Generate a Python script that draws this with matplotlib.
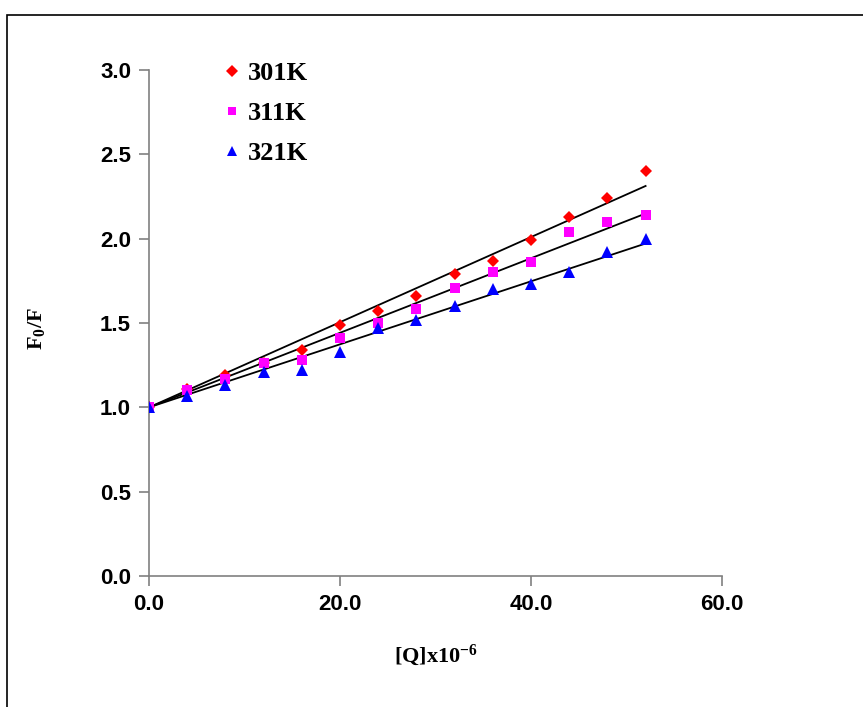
import matplotlib
matplotlib.use("Agg")
import matplotlib.pyplot as plt
import numpy as np
from matplotlib.patches import Rectangle
from matplotlib.lines import Line2D

# ── data ─────────────────────────────────────────────────────────────────────
conc = [0, 4, 8, 12, 16, 20, 24, 28, 32, 36, 40, 44, 48, 52]
f_301 = [1.00, 1.11, 1.19, 1.26, 1.34, 1.49, 1.57, 1.66, 1.79, 1.87, 1.99, 2.13, 2.24, 2.40]
f_311 = [1.00, 1.10, 1.17, 1.26, 1.28, 1.41, 1.50, 1.58, 1.71, 1.80, 1.86, 2.04, 2.10, 2.14]
f_321 = [1.00, 1.07, 1.13, 1.21, 1.22, 1.33, 1.47, 1.52, 1.60, 1.70, 1.73, 1.80, 1.92, 2.00]
labels = ["301K", "311K", "321K"]

x_ticks = [0, 20, 40, 60]
y_ticks = [0.0, 0.5, 1.0, 1.5, 2.0, 2.5, 3.0]

series = [
    (f_301, "#ff0000", "D", 6.5),
    (f_311, "#ff00ff", "s", 6.5),
    (f_321, "#0000ff", "^", 8),
]

plt.rcParams["mathtext.fontset"] = "custom"
plt.rcParams["mathtext.rm"] = "Liberation Serif:bold"
plt.rcParams["mathtext.bf"] = "Liberation Serif:bold"
plt.rcParams["mathtext.it"] = "Liberation Serif:bold"
plt.rcParams["mathtext.default"] = "rm"

fig = plt.figure(figsize=(8.63, 7.07), dpi=100)
ax = fig.add_axes([0.1727, 0.1853, 0.6639, 0.7157])

x = np.array(conc, dtype=float)
handles = []
for (vals, col, mk, ms), lab in zip(series, labels):
    ax.plot(x, vals, linestyle="none", marker=mk, color=col, markersize=ms,
            markeredgewidth=0, zorder=3)
    # Stern-Volmer fit, intercept fixed at F0/F = 1
    y = np.array(vals) - 1.0
    slope = np.sum(x * y) / np.sum(x * x)
    ax.plot([x[0], x[-1]], [1 + slope * x[0], 1 + slope * x[-1]],
            color="black", linewidth=1.3, zorder=2)
    handles.append(Line2D([], [], linestyle="none", marker=mk, color=col,
                          markersize=ms * 0.9, markeredgewidth=0, label=lab))

ax.set_xlim(0, 60)
ax.set_ylim(0, 3.0)
ax.set_xticks(x_ticks)
ax.set_xticklabels([f"{t:.1f}" for t in x_ticks])
ax.set_yticks(y_ticks)
ax.set_yticklabels([f"{t:.1f}" for t in y_ticks])

for side in ("top", "right"):
    ax.spines[side].set_visible(False)
for side in ("left", "bottom"):
    ax.spines[side].set_color("#808080")
    ax.spines[side].set_linewidth(1.2)
ax.tick_params(direction="out", length=7, width=1.2, color="#808080",
               labelsize=16, pad=6)
for t in ax.get_xticklabels() + ax.get_yticklabels():
    t.set_fontfamily("Liberation Sans")
    t.set_fontweight("bold")

serif = {"family": "Liberation Serif", "weight": "bold", "size": 16}
fig.text(0.505, 0.073, r"[Q]x10$^{-6}$", ha="center", va="center", **serif)
fig.text(0.042, 0.535, r"F$_{0}$/F", ha="center", va="center",
         rotation=90, **serif)

leg = fig.legend(handles=handles, loc="upper left",
                 bbox_to_anchor=(0.232, 0.946), frameon=False,
                 handlelength=0.6, handletextpad=0.3, labelspacing=0.62,
                 prop={"family": "Liberation Serif", "weight": "bold", "size": 19})

# outer frame around the figure (right/bottom edges run off the image)
fig.patches.append(Rectangle((7 / 863, -0.05), 1.1, 1 - 15 / 707 + 0.05,
                             transform=fig.transFigure, fill=False,
                             edgecolor="black", linewidth=1.2))

fig.savefig("out.png", dpi=100)
